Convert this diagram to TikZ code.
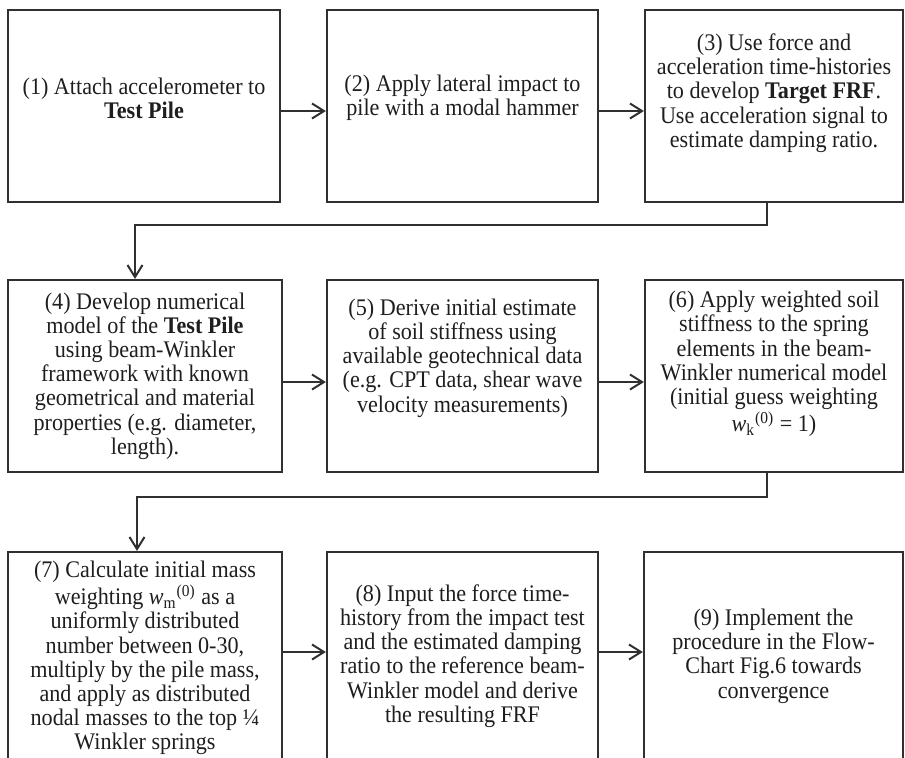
\documentclass[tikz,border=0pt]{standalone}
\usepackage{fontspec}
\setmainfont{Liberation Serif}[FakeStretch=0.93]
\usetikzlibrary{arrows.meta,calc}
\definecolor{ln}{HTML}{303030}
\definecolor{tx}{HTML}{1E1E1E}
\begin{document}
\begin{tikzpicture}[x=0.5pt,y=-0.5pt,
  boxshape/.style={draw=ln,line width=1.1pt,inner sep=0pt,rectangle},
  txt/.style={align=center,inner sep=0pt,text=tx,font=\fontsize{11.9}{12.1}\selectfont},
  arr/.style={draw=ln,line width=1.1pt,-{Straight Barb[length=6pt,width=7.5pt,line width=1pt]}},
  con/.style={draw=ln,line width=1.1pt}]
\useasboundingbox (0,0) rectangle (905,757);
\clip (0,0) rectangle (905,757);
% row 1
\node[boxshape,minimum width=136pt,minimum height=96pt] (b1) at (144,106) {};
\node[boxshape,minimum width=135.5pt,minimum height=96pt] (b2) at (462.5,106) {};
\node[boxshape,minimum width=129pt,minimum height=96pt] (b3) at (774,106) {};
% row 2
\node[boxshape,minimum width=137pt,minimum height=96pt] (b4) at (145,376) {};
\node[boxshape,minimum width=135.5pt,minimum height=96pt] (b5) at (462.5,376) {};
\node[boxshape,minimum width=129pt,minimum height=96pt] (b6) at (774,376) {};
% row 3
\node[boxshape,minimum width=137pt,minimum height=114pt] (b7) at (145,666) {};
\node[boxshape,minimum width=135.5pt,minimum height=114pt] (b8) at (462.5,666) {};
\node[boxshape,minimum width=129.5pt,minimum height=114pt] (b9) at (773.5,666) {};
% texts
\node[txt] (t1) at (144,98) {(1) Attach accelerometer to\\\textbf{Test Pile}};
\node[txt] (t2) at (462.5,98) {(2) Apply lateral impact to\\pile with a modal hammer};
\node[txt] (t3) at (774,93) {(3) Use force and\\acceleration time-histories\\to develop \textbf{Target FRF}.\\Use acceleration signal to\\estimate damping ratio.};
\node[txt] (t4) at (145,376) {(4) Develop numerical\\model of the \textbf{Test Pile}\\using beam-Winkler\\framework with known\\geometrical and material\\properties (e.g. diameter,\\length).};
\node[txt] (t5) at (462.5,358) {(5) Derive initial estimate\\of soil stiffness using\\available geotechnical data\\(e.g. CPT data, shear wave\\velocity measurements)};
\node[txt] (t6) at (774,364) {(6) Apply weighted soil\\stiffness to the spring\\elements in the beam-\\Winkler numerical model\\(initial guess weighting\\\textit{w}\textsubscript{k}\textsuperscript{(0)} = 1)};
\node[txt] (t7) at (145,658) {(7) Calculate initial mass\\weighting \textit{w}\textsubscript{m}\textsuperscript{(0)} as a\\uniformly distributed\\number between 0-30,\\multiply by the pile mass,\\and apply as distributed\\nodal masses to the top ¼\\Winkler springs};
\node[txt] (t8) at (462.5,656) {(8) Input the force time-\\history from the impact test\\and the estimated damping\\ratio to the reference beam-\\Winkler model and derive\\the resulting FRF};
\node[txt] (t9) at (773.5,656) {(9) Implement the\\procedure in the Flow-\\Chart Fig.6 towards\\convergence};
% horizontal arrows
\draw[arr] ([yshift=-2.5pt]b1.east) -- ([yshift=-2.5pt]b1.east -| b2.west);
\draw[arr] ([yshift=-2.5pt]b2.east) -- ([yshift=-2.5pt]b2.east -| b3.west);
\draw[arr] ([yshift=-3pt]b4.east) -- ([yshift=-3pt]b4.east -| b5.west);
\draw[arr] ([yshift=-3pt]b5.east) -- ([yshift=-3pt]b5.east -| b6.west);
\coordinate (r3) at (0,652);
\draw[arr] (b7.east |- r3) -- (b8.west |- r3);
\draw[arr] (b8.east |- r3) -- (b9.west |- r3);
% connectors between rows
\coordinate (j1a) at (767,225);
\coordinate (j1b) at (135,225);
\draw[arr] (b3.south -| j1a) -- (j1a) -- (j1b) -- (j1b |- b4.north);
\coordinate (j2a) at (767,497);
\coordinate (j2b) at (137,497);
\draw[arr] (b6.south -| j2a) -- (j2a) -- (j2b) -- (j2b |- b7.north);
\end{tikzpicture}
\end{document}
